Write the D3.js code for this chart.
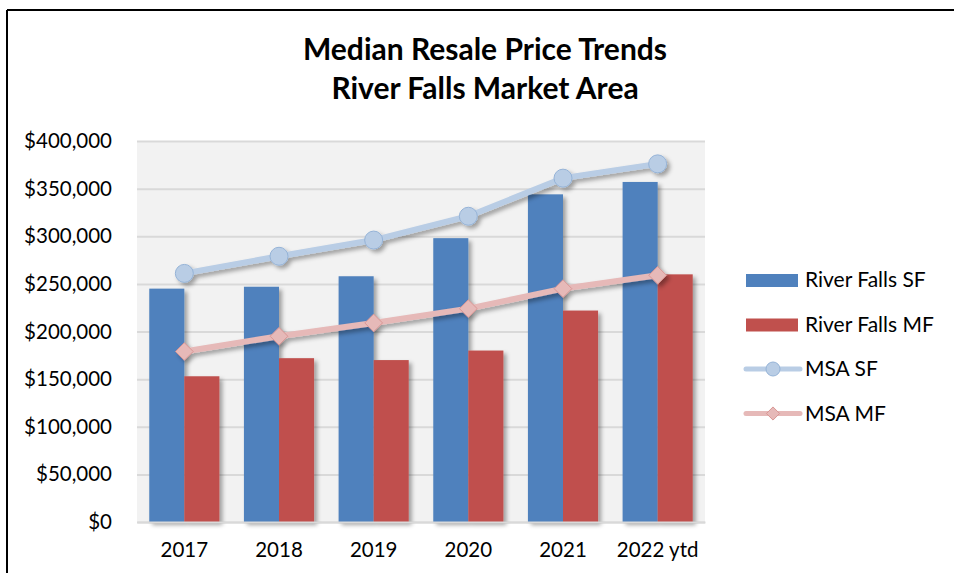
<!DOCTYPE html>
<html lang="en">
<head>
<meta charset="UTF-8">
<title>Median Resale Price Trends</title>
<script src="https://d3js.org/d3.v7.min.js"></script>
<style>
  body { margin: 0; background: #fff; }
  text { font-family: Lato, "Open Sans", sans-serif; fill: #000; }
</style>
</head>
<body>
<svg id="chart" width="954" height="573"></svg>
<script>
// data
const years = ["2017", "2018", "2019", "2020", "2021", "2022 ytd"];
const riverFallsSF = [245000, 247000, 258000, 298000, 344000, 357000];
const riverFallsMF = [153000, 172000, 170000, 180000, 222000, 260000];
const msaSF = [261000, 279000, 296000, 321000, 361000, 376000];
const msaMF = [179000, 195000, 209000, 224000, 245000, 259000];
const yTicks = [0, 50000, 100000, 150000, 200000, 250000, 300000, 350000, 400000];

const svg = d3.select("#chart");
const plot = { left: 137, right: 705, top: 141, bottom: 522 };

// soft drop shadow like the spreadsheet style
const defs = svg.append("defs");
defs.append("filter").attr("id", "shadow")
    .attr("x", "-20%").attr("y", "-20%").attr("width", "160%").attr("height", "160%")
    .append("feDropShadow")
    .attr("dx", 3).attr("dy", 3).attr("stdDeviation", 2)
    .attr("flood-color", "#000").attr("flood-opacity", 0.35);

// outer frame (only top and left visible)
svg.append("line").attr("x1", 7).attr("x2", 954).attr("y1", 10).attr("y2", 10)
    .attr("stroke", "#000").attr("stroke-width", 2);
svg.append("line").attr("x1", 7).attr("x2", 7).attr("y1", 10).attr("y2", 573)
    .attr("stroke", "#000").attr("stroke-width", 2);

// title
const title = svg.append("text")
    .attr("text-anchor", "middle")
    .style("font-size", "30px").style("font-weight", "bold");
title.append("tspan").attr("x", 485).attr("y", 60).text("Median Resale Price Trends");
title.append("tspan").attr("x", 485).attr("y", 99).text("River Falls Market Area");

const x = d3.scaleBand().domain(years).range([plot.left, plot.right]);
const xInner = d3.scaleBand().domain(["SF", "MF"])
    .range([0, x.bandwidth()]).paddingInner(0).paddingOuter(0.35);
const y = d3.scaleLinear().domain([0, 400000]).range([plot.bottom, plot.top]);

// plot background
svg.append("rect")
    .attr("x", plot.left).attr("y", plot.top)
    .attr("width", plot.right - plot.left).attr("height", plot.bottom - plot.top)
    .attr("fill", "#f2f2f2");

// gridlines + y axis labels
const yAxis = svg.append("g")
    .attr("transform", `translate(${plot.left},0)`)
    .call(d3.axisLeft(y).tickValues(yTicks)
        .tickSize(-(plot.right - plot.left)).tickPadding(25)
        .tickFormat(d => "$" + d3.format(",")(d)));
yAxis.select(".domain").remove();
yAxis.selectAll(".tick line").attr("stroke", "#d9d9d9").attr("stroke-width", 2);
yAxis.selectAll(".tick text").style("font-size", "20.5px").attr("fill", "#000");

// bars
const bars = svg.append("g").attr("filter", "url(#shadow)");
bars.selectAll(".sf").data(riverFallsSF).join("rect")
    .attr("x", (d, i) => x(years[i]) + xInner("SF"))
    .attr("y", d => y(d))
    .attr("width", xInner.bandwidth())
    .attr("height", d => y(0) - y(d))
    .attr("fill", "#4f81bd");
bars.selectAll(".mf").data(riverFallsMF).join("rect")
    .attr("x", (d, i) => x(years[i]) + xInner("MF"))
    .attr("y", d => y(d))
    .attr("width", xInner.bandwidth())
    .attr("height", d => y(0) - y(d))
    .attr("fill", "#c0504d");

// x axis
const xAxis = svg.append("g")
    .attr("transform", `translate(0,${plot.bottom})`)
    .call(d3.axisBottom(x).tickSize(0).tickPadding(20));
xAxis.select(".domain").attr("stroke", "#d9d9d9").attr("stroke-width", 2);
xAxis.selectAll(".tick text").style("font-size", "20.5px").attr("fill", "#000");

const cx = (d, i) => x(years[i]) + x.bandwidth() / 2;
const line = d3.line().x(cx).y(d => y(d));

// MSA MF line with diamonds
const mfG = svg.append("g").attr("filter", "url(#shadow)");
mfG.append("path").datum(msaMF).attr("d", line)
    .attr("fill", "none").attr("stroke", "#e6b9b8").attr("stroke-width", 6);
mfG.selectAll("path.m").data(msaMF).join("path").attr("class", "m")
    .attr("transform", (d, i) => `translate(${cx(d, i)},${y(d)})`)
    .attr("d", d3.symbol(d3.symbolDiamond2, 200))
    .attr("fill", "#e6b9b8").attr("stroke", "#d99694").attr("stroke-width", 1);

// MSA SF line with circles
const sfG = svg.append("g").attr("filter", "url(#shadow)");
sfG.append("path").datum(msaSF).attr("d", line)
    .attr("fill", "none").attr("stroke", "#b9cde5").attr("stroke-width", 6);
sfG.selectAll("circle").data(msaSF).join("circle")
    .attr("cx", cx).attr("cy", d => y(d)).attr("r", 9)
    .attr("fill", "#b9cde5").attr("stroke", "#95b3d7").attr("stroke-width", 1);

// legend
const legendItems = [
    { name: "River Falls SF", type: "bar", color: "#4f81bd" },
    { name: "River Falls MF", type: "bar", color: "#c0504d" },
    { name: "MSA SF", type: "circle", color: "#b9cde5", stroke: "#95b3d7" },
    { name: "MSA MF", type: "diamond", color: "#e6b9b8", stroke: "#d99694" }
];
const legend = svg.append("g").attr("transform", "translate(746,280)");
const item = legend.selectAll("g").data(legendItems).join("g")
    .attr("transform", (d, i) => `translate(0,${i * 44.5})`);
item.filter(d => d.type === "bar").append("rect")
    .attr("x", 0).attr("y", -6).attr("width", 52).attr("height", 13)
    .attr("fill", d => d.color);
item.filter(d => d.type !== "bar").append("line")
    .attr("x1", 0).attr("x2", 54).attr("y1", 0).attr("y2", 0)
    .attr("stroke", d => d.color).attr("stroke-width", 5).attr("stroke-linecap", "round");
item.filter(d => d.type === "circle").append("circle")
    .attr("cx", 27).attr("cy", 0).attr("r", 7)
    .attr("fill", d => d.color).attr("stroke", d => d.stroke);
item.filter(d => d.type === "diamond").append("path")
    .attr("transform", "translate(27,0)")
    .attr("d", d3.symbol(d3.symbolDiamond2, 110))
    .attr("fill", d => d.color).attr("stroke", d => d.stroke);
item.append("text")
    .attr("x", 59).attr("y", 0).attr("dy", "0.35em")
    .style("font-size", "21px")
    .text(d => d.name);
</script>
</body>
</html>
